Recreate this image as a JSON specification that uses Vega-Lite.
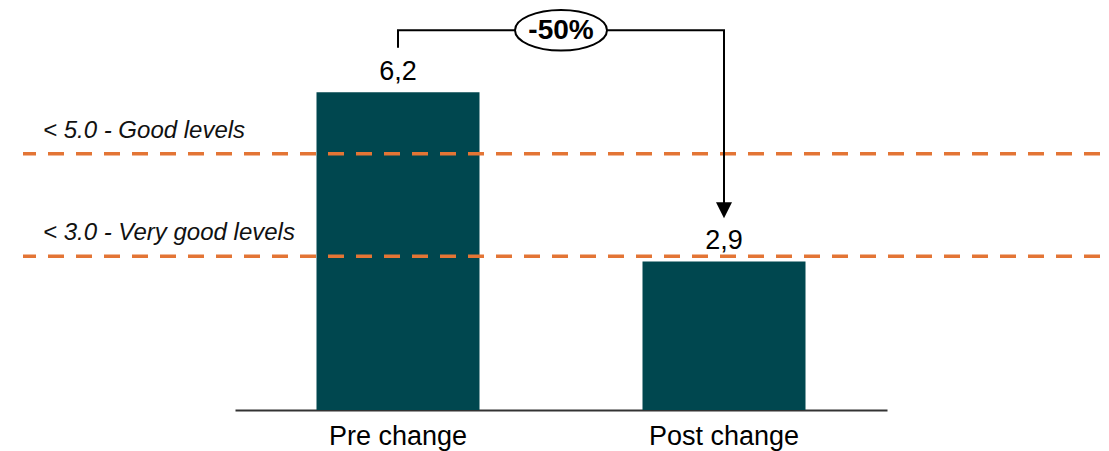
{
  "$schema": "https://vega.github.io/schema/vega-lite/v6.json",
  "width": 1077,
  "height": 410,
  "autosize": {"type": "none"},
  "padding": {"left": 23, "top": 0, "right": 9, "bottom": 41},
  "config": {"view": {"stroke": null}, "font": "Liberation Sans"},
  "datasets": {
    "bars": [
      {"category": "Pre change", "value": 6.2, "label": "6,2"},
      {"category": "Post change", "value": 2.9, "label": "2,9"}
    ],
    "thresholds": [
      {"value": 5.0, "label": "< 5.0 - Good levels"},
      {"value": 3.0, "label": "< 3.0 - Very good levels"}
    ],
    "bracket": [
      {"category": "Pre change", "y": 7.07, "order": 1},
      {"category": "Pre change", "y": 7.41, "order": 2},
      {"category": "Post change", "y": 7.41, "order": 3},
      {"category": "Post change", "y": 3.9, "order": 4}
    ],
    "arrow": [{"category": "Post change", "y": 3.9}],
    "change": [{"category": "Pre change", "y": 7.41, "label": "-50%"}]
  },
  "layer": [
    {
      "data": {"name": "bars"},
      "mark": {"type": "bar", "color": "#00474F"},
      "encoding": {
        "x": {
          "field": "category",
          "type": "nominal",
          "sort": null,
          "scale": {"domain": ["Pre change", "Post change"], "range": [212, 864], "paddingInner": 0.5, "paddingOuter": 0.25},
          "axis": {"title": null, "labelFontSize": 27, "labelColor": "#000000", "ticks": false, "labelPadding": 13, "domainColor": "#333333", "domainWidth": 2, "grid": false, "labelAngle": 0}
        },
        "y": {
          "field": "value",
          "type": "quantitative",
          "scale": {"domain": [0, 8], "nice": false, "zero": true},
          "axis": null
        }
      }
    },
    {
      "data": {"name": "bars"},
      "mark": {"type": "text", "fontSize": 27, "color": "#000000", "baseline": "alphabetic", "dy": -12, "align": "center"},
      "encoding": {
        "x": {"field": "category", "type": "nominal", "sort": null},
        "y": {"field": "value", "type": "quantitative"},
        "text": {"field": "label"}
      }
    },
    {
      "data": {"name": "thresholds"},
      "mark": {"type": "rule", "color": "#E37535", "strokeWidth": 3.5, "strokeDash": [16, 12]},
      "encoding": {
        "y": {"field": "value", "type": "quantitative"}
      }
    },
    {
      "data": {"name": "thresholds"},
      "mark": {"type": "text", "fontSize": 24, "fontStyle": "italic", "color": "#111111", "align": "left", "baseline": "alphabetic", "dy": -16},
      "encoding": {
        "x": {"datum": "Pre change", "type": "nominal", "bandPosition": -1.678},
        "y": {"field": "value", "type": "quantitative"},
        "text": {"field": "label"}
      }
    },
    {
      "data": {"name": "bracket"},
      "mark": {"type": "line", "color": "#000000", "strokeWidth": 2, "strokeJoin": "miter", "strokeCap": "butt"},
      "encoding": {
        "x": {"field": "category", "type": "nominal", "sort": null},
        "y": {"field": "y", "type": "quantitative"},
        "order": {"field": "order"}
      }
    },
    {
      "data": {"name": "arrow"},
      "mark": {"type": "point", "shape": "M-1,-1L1,-1L0,1Z", "size": 256, "filled": true, "color": "#000000", "opacity": 1},
      "encoding": {
        "x": {"field": "category", "type": "nominal", "sort": null},
        "y": {"field": "y", "type": "quantitative"}
      }
    },
    {
      "data": {"name": "change"},
      "mark": {"type": "point", "shape": "M-1,0A1,0.44 0 1,1 1,0A1,0.44 0 1,1 -1,0Z", "size": 8464, "filled": false, "fill": "#ffffff", "fillOpacity": 1, "stroke": "#000000", "strokeWidth": 2, "opacity": 1},
      "encoding": {
        "x": {"field": "category", "type": "nominal", "sort": null, "bandPosition": 1.5},
        "y": {"field": "y", "type": "quantitative"}
      }
    },
    {
      "data": {"name": "change"},
      "mark": {"type": "text", "fontSize": 28, "fontWeight": "bold", "color": "#000000", "align": "center", "baseline": "middle", "dy": 1},
      "encoding": {
        "x": {"field": "category", "type": "nominal", "sort": null, "bandPosition": 1.5},
        "y": {"field": "y", "type": "quantitative"},
        "text": {"field": "label"}
      }
    }
  ]
}
